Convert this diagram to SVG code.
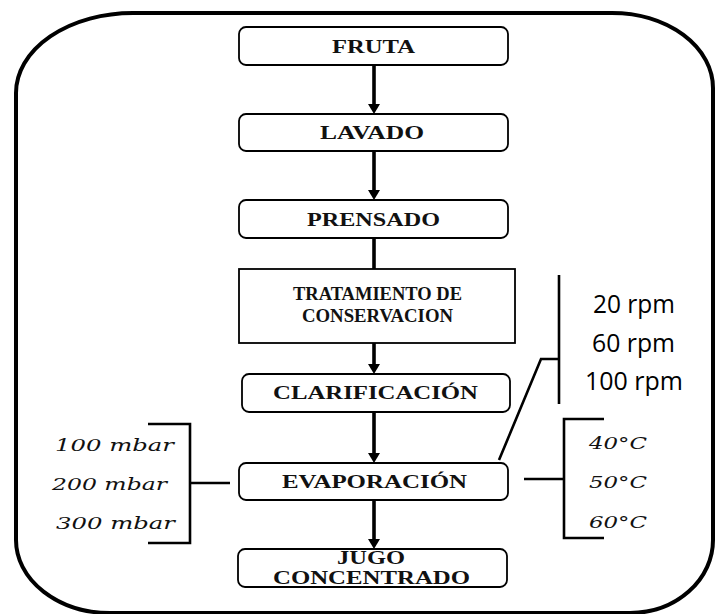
<svg xmlns="http://www.w3.org/2000/svg" width="715" height="614" viewBox="0 0 715 614">
<style>
.box{fill:#fff;stroke:#000;stroke-width:1.8}
.lbl{font-family:"Liberation Serif","Times New Roman",serif;font-weight:bold;font-size:18px;fill:#111}
.it{font-family:"DejaVu Serif","Liberation Serif",serif;font-style:italic;font-size:17px;fill:#111}
.rpm{font-family:"Open Sans","Liberation Sans",sans-serif;font-size:26px;fill:#000}
.ln{stroke:#000;stroke-width:2.6;fill:none}
.ar{stroke:#000;stroke-width:3.6;fill:none}
</style>
<rect width="715" height="614" fill="#fff"/>
<path id="frame" d="M133,13 H612 A101 75 0 0 1 713 88 V540 A83 73 0 0 1 630 613 H110 A94 73 0 0 1 16 540 V93 A117 80 0 0 1 133 13 Z" fill="none" stroke="#000" stroke-width="4"/>

<g id="connectors">
<line class="ar" x1="374" y1="65" x2="374" y2="104"/>
<path d="M368,104 L380,104 L374,114 Z"/>
<line class="ar" x1="374" y1="151" x2="374" y2="190"/>
<path d="M368,190 L380,190 L374,200 Z"/>
<line class="ar" x1="374" y1="238" x2="374" y2="269"/>
<line class="ar" x1="374" y1="343" x2="374" y2="364"/>
<path d="M368,364 L380,364 L374,374 Z"/>
<line class="ar" x1="374" y1="412" x2="374" y2="453"/>
<path d="M368,453 L380,453 L374,463 Z"/>
<line class="ar" x1="374" y1="500" x2="374" y2="539"/>
<path d="M368,539 L380,539 L374,549 Z"/>
</g>

<g id="rpm-bracket">
<line class="ln" x1="559" y1="275" x2="559" y2="404"/>
<polyline class="ln" points="559,359 541,359 499,460"/>
<text class="rpm" x="593" y="313" textLength="82" lengthAdjust="spacingAndGlyphs">20 rpm</text>
<text class="rpm" x="592" y="352" textLength="83" lengthAdjust="spacingAndGlyphs">60 rpm</text>
<text class="rpm" x="585" y="390" textLength="98" lengthAdjust="spacingAndGlyphs">100 rpm</text>
</g>

<g id="temp-bracket">
<polyline class="ln" points="604,419 564,419 564,538 604,538"/>
<line class="ln" x1="524" y1="479" x2="564" y2="479"/>
<text class="it" x="589" y="449" font-size="16" textLength="58" lengthAdjust="spacingAndGlyphs">40°C</text>
<text class="it" x="589" y="488" font-size="16" textLength="58" lengthAdjust="spacingAndGlyphs">50°C</text>
<text class="it" x="589" y="528" font-size="16" textLength="58" lengthAdjust="spacingAndGlyphs">60°C</text>
</g>

<g id="pressure-bracket">
<polyline class="ln" points="148,424 190,424 190,543 148,543"/>
<line class="ln" x1="190" y1="483" x2="230" y2="483"/>
<text class="it" x="55" y="451" textLength="119" lengthAdjust="spacingAndGlyphs">100 mbar</text>
<text class="it" x="52" y="490" textLength="115" lengthAdjust="spacingAndGlyphs">200 mbar</text>
<text class="it" x="56" y="529" textLength="119" lengthAdjust="spacingAndGlyphs">300 mbar</text>
</g>

<g id="fruta">
<rect class="box" x="239" y="27" width="269" height="38" rx="7"/>
<text class="lbl" x="332" y="53" textLength="83" lengthAdjust="spacingAndGlyphs">FRUTA</text>
</g>
<g id="lavado">
<rect class="box" x="239" y="114" width="269" height="37" rx="7"/>
<text class="lbl" x="320" y="139" textLength="104" lengthAdjust="spacingAndGlyphs">LAVADO</text>
</g>
<g id="prensado">
<rect class="box" x="239" y="200" width="269" height="38" rx="7"/>
<text class="lbl" x="307" y="226" textLength="133" lengthAdjust="spacingAndGlyphs">PRENSADO</text>
</g>
<g id="tratamiento">
<rect class="box" x="239" y="269" width="276" height="74" stroke-width="2.2"/>
<text class="lbl" x="293" y="300" textLength="169" lengthAdjust="spacingAndGlyphs">TRATAMIENTO DE</text>
<text class="lbl" x="302" y="322" textLength="151" lengthAdjust="spacingAndGlyphs">CONSERVACION</text>
</g>
<g id="clarificacion">
<rect class="box" x="242" y="374" width="268" height="38" rx="7"/>
<text class="lbl" x="273" y="399" font-size="19" textLength="205" lengthAdjust="spacingAndGlyphs">CLARIFICACIÓN</text>
</g>
<g id="evaporacion">
<rect class="box" x="239" y="463" width="269" height="37" rx="7"/>
<text class="lbl" x="282" y="488" font-size="19" textLength="185" lengthAdjust="spacingAndGlyphs">EVAPORACIÓN</text>
</g>
<g id="jugo">
<rect class="box" x="238" y="549" width="269" height="38" rx="7"/>
<text class="lbl" x="337" y="564" font-size="17" textLength="68" lengthAdjust="spacingAndGlyphs">JUGO</text>
<text class="lbl" x="273" y="584" font-size="17" textLength="197" lengthAdjust="spacingAndGlyphs">CONCENTRADO</text>
</g>
</svg>
